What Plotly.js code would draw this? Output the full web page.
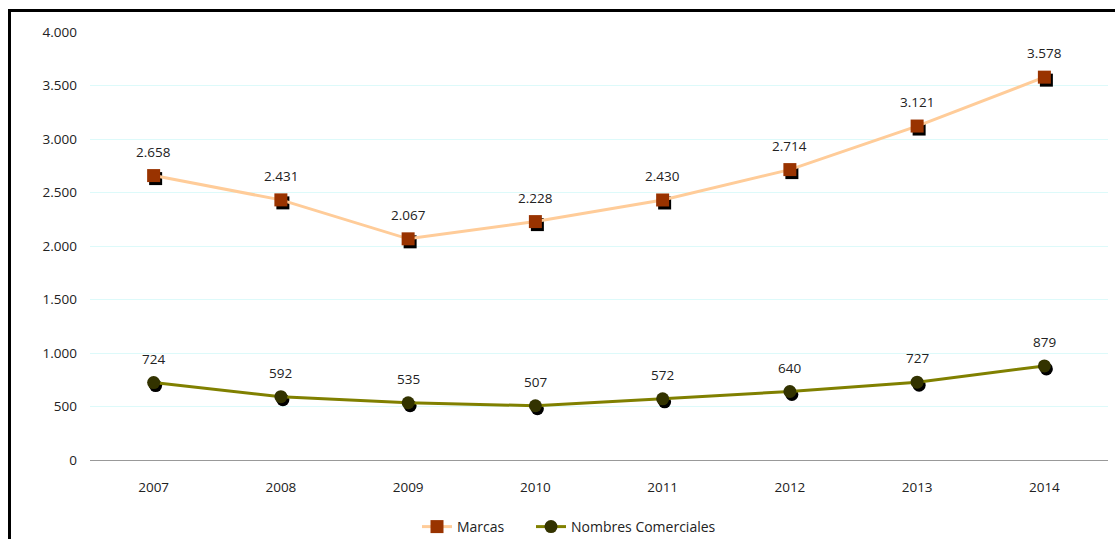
<!DOCTYPE html>
<html>
<head>
<meta charset="utf-8">
<script src="https://cdn.plot.ly/plotly-3.0.1.min.js"></script>
<style>
html,body{margin:0;padding:0;background:#fff;}
#wrap{position:relative;width:1115px;height:539px;}
#chart{width:1115px;height:539px;}
#frame{position:absolute;left:8px;top:9px;width:1120px;height:540px;border-left:3px solid #000;border-top:3px solid #000;pointer-events:none;}
</style>
</head>
<body>
<div id="wrap"><div id="chart"></div><div id="frame"></div></div>
<script>
const years = ['2007','2008','2009','2010','2011','2012','2013','2014'];
const marcas = [2658, 2431, 2067, 2228, 2430, 2714, 3121, 3578];
const nombres = [724, 592, 535, 507, 572, 640, 727, 879];
const yTicks = [0, 500, 1000, 1500, 2000, 2500, 3000, 3500, 4000];

const font = {family: 'Open Sans, DejaVu Sans, sans-serif', size: 13.5, color: '#222'};
const legendFont = {family: 'Open Sans, DejaVu Sans, sans-serif', size: 14, color: '#222'};
const pxX = 1 / 127.25;   // category units per pixel
const pxY = 4000 / 428;   // value units per pixel

const traces = [
  // shadows (on the hidden, slightly shifted base axes; drawn below)
  {x: years, y: marcas, type: 'scatter', mode: 'markers', xaxis: 'x', yaxis: 'y',
   marker: {symbol: 'square', size: 13, color: '#000'}, showlegend: false, hoverinfo: 'skip'},
  {x: years, y: nombres, type: 'scatter', mode: 'markers', xaxis: 'x', yaxis: 'y',
   marker: {symbol: 'circle', size: 13, color: '#000'}, showlegend: false, hoverinfo: 'skip'},
  {x: years, y: marcas, name: 'Marcas', type: 'scatter', mode: 'lines+markers', xaxis: 'x2', yaxis: 'y2',
   line: {color: '#FFCC99', width: 3}, legend: 'legend',
   marker: {symbol: 'square', size: 13, color: '#993300'}},
  {x: years, y: nombres, name: 'Nombres Comerciales', type: 'scatter', mode: 'lines+markers', xaxis: 'x2', yaxis: 'y2',
   line: {color: '#808000', width: 3}, legend: 'legend2',
   marker: {symbol: 'circle', size: 13, color: '#333300'}}
];

function fmt(v) {
  return String(v).replace(/\B(?=(\d{3})+(?!\d))/g, '.');
}
const annotations = [];
[marcas, nombres].forEach(function (series) {
  series.forEach(function (v, i) {
    annotations.push({x: i, y: v, xref: 'x2', yref: 'y2', text: fmt(v), showarrow: false,
      yshift: 24, font: font});
  });
});

const legendBase = {orientation: 'h', xanchor: 'left', xref: 'container', yref: 'container',
  y: 12 / 539, yanchor: 'middle', font: legendFont, bgcolor: 'rgba(0,0,0,0)'};

const layout = {
  width: 1115, height: 539,
  margin: {l: 90, r: 7, t: 32, b: 79},
  paper_bgcolor: '#fff', plot_bgcolor: '#fff',
  separators: ',.',
  font: font,
  showlegend: true,
  legend: Object.assign({}, legendBase, {x: 417 / 1115}),
  legend2: Object.assign({}, legendBase, {x: 531 / 1115}),
  annotations: annotations,
  xaxis: {type: 'category', range: [-0.5 - 2 * pxX, 7.5 - 2 * pxX], visible: false},
  yaxis: {range: [3 * pxY, 4000 + 3 * pxY], visible: false},
  xaxis2: {type: 'category', overlaying: 'x', range: [-0.5, 7.5], showgrid: false, zeroline: false,
           showline: false, ticks: '', tickfont: font, ticklabelstandoff: 17, side: 'bottom'},
  yaxis2: {overlaying: 'y', range: [0, 4000], tickvals: yTicks, tickformat: ',d', gridcolor: '#DDFAFA',
           gridwidth: 1, zeroline: true, zerolinecolor: '#999', zerolinewidth: 1, showline: false,
           ticks: '', tickfont: font, ticklabelstandoff: 12, side: 'left'}
};

Plotly.newPlot('chart', traces, layout, {displayModeBar: false, staticPlot: true});
</script>
</body>
</html>
